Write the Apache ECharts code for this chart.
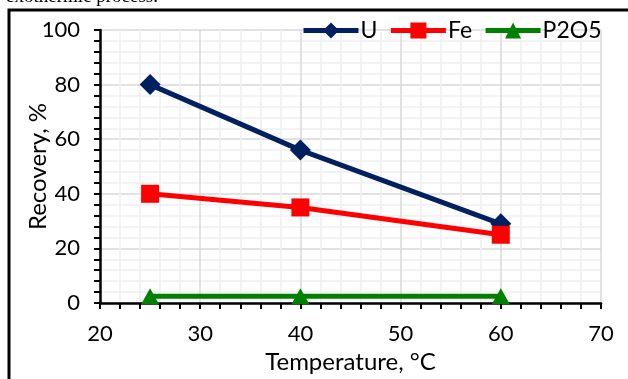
<!DOCTYPE html>
<html><head><meta charset="utf-8">
<script src="https://cdn.jsdelivr.net/npm/echarts@6/dist/echarts.min.js"></script>
<style>html,body{margin:0;padding:0;background:#fff}#c{width:628px;height:379px}</style>
</head><body><div id="c"></div>
<script>
const temperature = [25, 40, 60];
const U = [80, 56, 29];
const Fe = [40, 35, 25];
const P2O5 = [2.5, 2.5, 2.5];
const seriesNames = ['U', 'Fe', 'P2O5'];

const chart = echarts.init(document.getElementById('c'), null, {renderer: 'canvas'});
const font = 'Lato, "Open Sans", sans-serif';
function pairs(xs, ys){ return xs.map((x,i)=>[x, ys[i]]); }
chart.setOption({
  animation: false,
  backgroundColor: '#fff',
  grid: {left: 100, right: 27, top: 30, bottom: 74},
  legend: {
    left: 296, top: 14, itemWidth: 55, itemHeight: 20, itemGap: 11,
    lineStyle: {width: 5},
    textStyle: {fontFamily: font, fontSize: 23, color: '#000', padding: [0,0,0,-3]},
    data: seriesNames
  },
  xAxis: {
    type: 'value', min: 20, max: 70, interval: 10,
    name: 'Temperature, °C', nameLocation: 'middle', nameGap: 47, nameMoveOverlap: false,
    nameTextStyle: {fontFamily: font, fontSize: 24, color: '#000'},
    axisLine: {lineStyle: {color: '#000', width: 2.5}},
    axisTick: {show: true, inside: false, length: 6, lineStyle: {color: '#000', width: 2}},
    minorTick: {show: true, splitNumber: 5, length: 6, lineStyle: {color: '#000', width: 2}},
    axisLabel: {fontFamily: font, fontSize: 22, color: '#000', margin: 20},
    splitLine: {show: true, lineStyle: {color: '#d9d9d9', width: 1.5}},
    minorSplitLine: {show: true, lineStyle: {color: '#efefef', width: 1.5}}
  },
  yAxis: {
    type: 'value', min: 0, max: 100, interval: 20,
    name: 'Recovery, %', nameLocation: 'middle', nameGap: 50, nameRotate: 90, nameMoveOverlap: false,
    nameTextStyle: {fontFamily: font, fontSize: 24, color: '#000'},
    axisLine: {show: true, lineStyle: {color: '#000', width: 2.5}},
    axisTick: {show: true, inside: false, length: 6, lineStyle: {color: '#000', width: 2}},
    minorTick: {show: true, splitNumber: 5, length: 6, lineStyle: {color: '#000', width: 2}},
    axisLabel: {fontFamily: font, fontSize: 22, color: '#000', margin: 20},
    splitLine: {show: true, lineStyle: {color: '#d9d9d9', width: 1.5}},
    minorSplitLine: {show: true, lineStyle: {color: '#efefef', width: 1.5}}
  },
  graphic: [
    {type: 'text', left: 6, top: -12, style: {text: 'exothermic process.', font: '19px "Liberation Serif", serif', fill: '#000'}},
    {type: 'polyline', shape: {points: [[9, 379], [9, 10], [628, 10]]}, style: {stroke: '#000', lineWidth: 3, fill: null}}
  ],
  series: [
    {name: 'U', type: 'line', data: pairs(temperature, U), symbol: 'diamond', symbolSize: [21, 21],
     itemStyle: {color: '#002060'}, lineStyle: {color: '#002060', width: 5}},
    {name: 'Fe', type: 'line', data: pairs(temperature, Fe), symbol: 'rect', symbolSize: 18,
     itemStyle: {color: '#ff0000'}, lineStyle: {color: '#ff0000', width: 5}},
    {name: 'P2O5', type: 'line', data: pairs(temperature, P2O5), symbol: 'triangle', symbolSize: [18, 16],
     itemStyle: {color: '#008000'}, lineStyle: {color: '#008000', width: 5}}
  ]
});
</script></body></html>
